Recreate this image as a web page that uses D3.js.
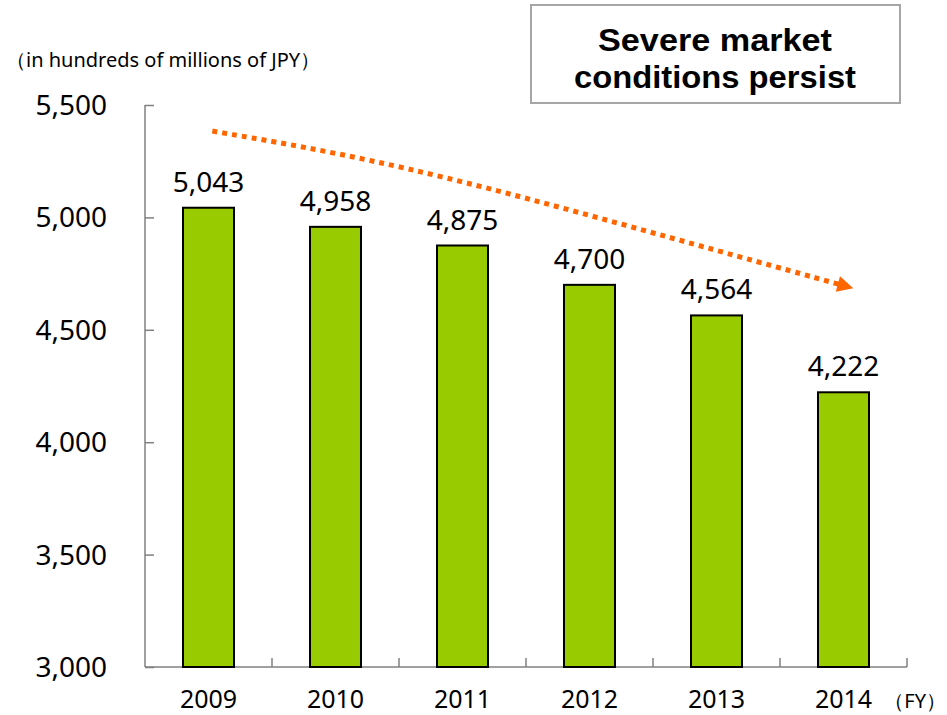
<!DOCTYPE html>
<html><head><meta charset="utf-8">
<script src="https://cdn.jsdelivr.net/npm/d3@7"></script>
<style>body{margin:0;background:#fff}svg{display:block}</style>
</head><body>
<svg id="c" width="947" height="715"></svg>
<script>
const categories = ["2009","2010","2011","2012","2013","2014"];
const values = [5043, 4958, 4875, 4700, 4564, 4222];
const yTicks = [3000, 3500, 4000, 4500, 5000, 5500];
const unitLabel = "（in hundreds of millions of JPY）";
const fyLabel = "（FY）";
const calloutLines = ["Severe market", "conditions persist"];
// trend arrow path in data terms: [category position (index), value]
const trendPoints = [[0.03, 5384], [1.0, 5290], [2.1, 5150], [3.7, 4900], [4.98, 4700]];

(function(){
const svg = d3.select("#c");
const font = "'Noto Sans', 'DejaVu Sans', sans-serif";
const mLeft = 145, mRight = 907, mTop = 105, mBottom = 667;

const x = d3.scaleBand().domain(categories).range([mLeft, mRight]).paddingInner(0).paddingOuter(0);
const y = d3.scaleLinear().domain([3000, 5500]).range([mBottom, mTop]);
const xPos = d3.scaleLinear().domain([0, categories.length - 1])
  .range([x(categories[0]) + x.bandwidth()/2, x(categories[categories.length-1]) + x.bandwidth()/2]);

// y axis
const yAxis = svg.append("g").attr("transform", `translate(${mLeft},0)`)
  .call(d3.axisRight(y).tickValues(yTicks).tickSize(9).tickFormat(""));
yAxis.select(".domain").attr("stroke", "#808080").attr("stroke-width", 1.5).attr("d", `M0,${mTop}V${mBottom}`);
yAxis.selectAll(".tick line").attr("stroke", "#808080").attr("stroke-width", 1.5);
svg.append("g").selectAll("text").data(yTicks).join("text")
  .attr("x", 107).attr("y", d => y(d)).attr("dy", "0.36em")
  .attr("text-anchor", "end").attr("font-family", font).attr("font-size", 28).attr("fill", "#000")
  .text(d3.format(","));

// x axis (ticks at category boundaries, pointing up)
svg.append("line").attr("x1", mLeft).attr("x2", mRight).attr("y1", mBottom).attr("y2", mBottom)
  .attr("stroke", "#808080").attr("stroke-width", 1.5);
svg.append("g").selectAll("line").data(categories).join("line")
  .attr("x1", d => x(d) + x.bandwidth()).attr("x2", d => x(d) + x.bandwidth())
  .attr("y1", mBottom).attr("y2", mBottom - 9).attr("stroke", "#808080").attr("stroke-width", 1.5);
svg.append("g").selectAll("text").data(categories).join("text")
  .attr("x", d => x(d) + x.bandwidth()/2).attr("y", 708)
  .attr("text-anchor", "middle").attr("font-family", font).attr("font-size", 25).attr("fill", "#000")
  .text(d => d);

// bars
const bw = 51;
svg.append("g").selectAll("rect").data(values).join("rect")
  .attr("x", (d,i) => x(categories[i]) + x.bandwidth()/2 - bw/2)
  .attr("width", bw)
  .attr("y", d => y(d)).attr("height", d => mBottom - y(d))
  .attr("fill", "#99CC00").attr("stroke", "#000").attr("stroke-width", 2);

// value labels
svg.append("g").selectAll("text").data(values).join("text")
  .attr("x", (d,i) => x(categories[i]) + x.bandwidth()/2).attr("y", d => y(d) - 16)
  .attr("text-anchor", "middle").attr("font-family", font).attr("font-size", 28).attr("fill", "#000")
  .text(d3.format(","));

// unit label
svg.append("text").attr("x", 6).attr("y", 67).attr("font-family", font).attr("font-size", 20)
  .attr("fill", "#000").text(unitLabel);
svg.append("text").attr("x", 946).attr("y", 708).attr("text-anchor", "end")
  .attr("font-family", font).attr("font-size", 20)
  .attr("fill", "#000").text(fyLabel);

// trend arrow
svg.append("defs").append("marker").attr("id", "ah").attr("viewBox", "0 0 10 10")
  .attr("refX", 2).attr("refY", 5).attr("markerWidth", 3.4).attr("markerHeight", 3.2)
  .attr("orient", "auto").attr("markerUnits", "strokeWidth")
  .append("path").attr("d", "M0,0L10,5L0,10Z").attr("fill", "#FF6600");
const line = d3.line().x(d => xPos(d[0])).y(d => y(d[1])).curve(d3.curveBasis);
svg.append("path").attr("d", line(trendPoints)).attr("fill", "none")
  .attr("stroke", "#FF6600").attr("stroke-width", 5).attr("stroke-dasharray", "5,5")
  .attr("marker-end", "url(#ah)");

// callout box
svg.append("rect").attr("x", 531).attr("y", 5).attr("width", 369).attr("height", 98)
  .attr("fill", "#fff").attr("stroke", "#A6A6A6").attr("stroke-width", 2);
const calloutWidths = [234, 282];
svg.append("g").selectAll("text").data(calloutLines).join("text")
  .attr("x", (d,i) => 715 - calloutWidths[i]/2).attr("y", (d,i) => 51 + i*37)
  .attr("textLength", (d,i) => calloutWidths[i]).attr("lengthAdjust", "spacingAndGlyphs")
  .attr("font-family", "'Liberation Sans', Arial, sans-serif").attr("font-weight", "bold")
  .attr("font-size", 32).attr("fill", "#000").text(d => d);
})();
</script>
</body></html>
